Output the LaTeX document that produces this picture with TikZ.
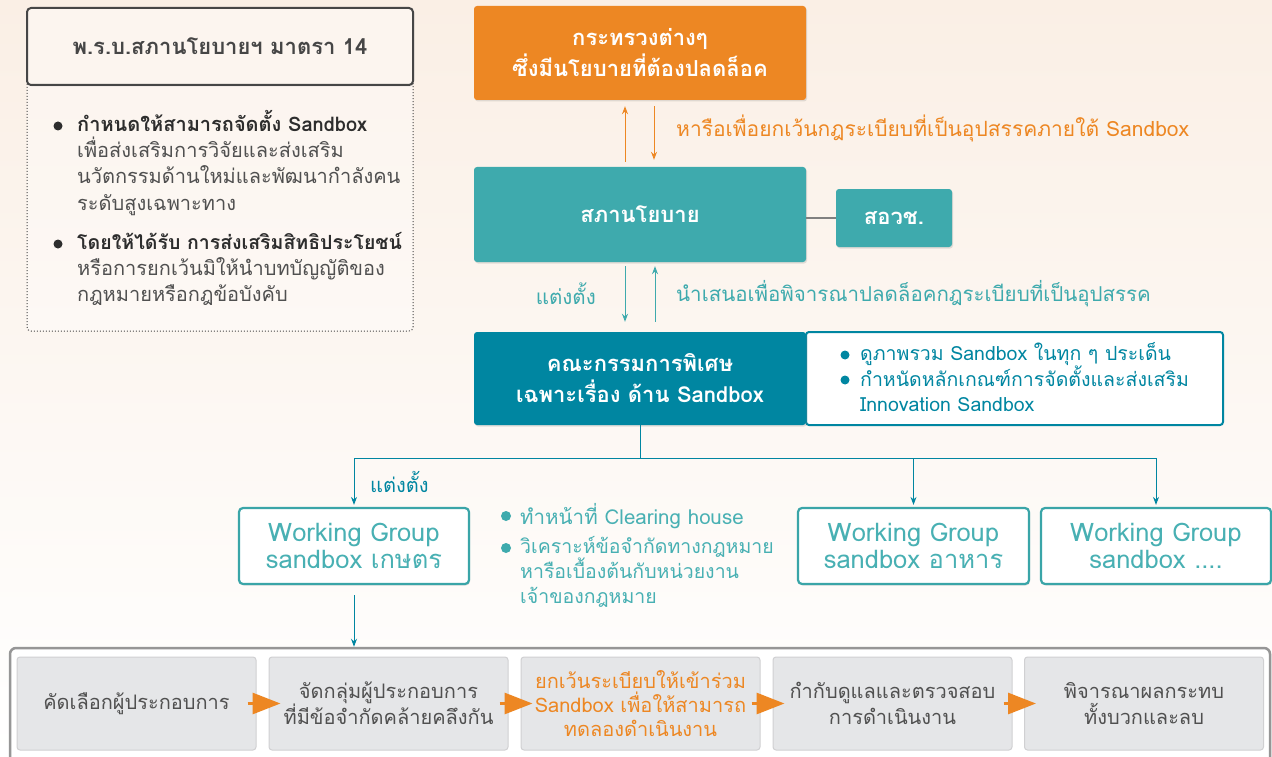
\documentclass[tikz,border=0pt]{standalone}
\usepackage{fontspec}
\setmainfont{Loma}[Script=Thai]
\usetikzlibrary{arrows.meta,shadows}
\definecolor{bgtop}{RGB}{250,239,229}
\definecolor{cOrange}{RGB}{237,135,35}
\definecolor{cTeal}{RGB}{62,170,173}
\definecolor{cTealTxt}{RGB}{72,176,179}
\definecolor{cDark}{RGB}{0,134,161}
\definecolor{cWG}{RGB}{58,165,168}
\definecolor{cText}{RGB}{80,80,80}
\definecolor{cHead}{RGB}{70,70,70}
\definecolor{cBold}{RGB}{45,45,45}
\definecolor{cStep}{RGB}{229,230,232}
\definecolor{cStepLine}{RGB}{208,208,210}
\definecolor{cFrame}{RGB}{150,150,150}
\begin{document}
\begin{tikzpicture}[x=1pt,y=-1pt,
  shadowed/.style={drop shadow={opacity=0.22,shadow xshift=1pt,shadow yshift=-1.5pt}},
  solidbox/.style={rounded corners=3pt,text=white,align=center,inner sep=0pt,
    font=\bfseries\fontsize{22}{31}\selectfont,shadowed},
  wgbox/.style={rounded corners=4pt,draw=cWG,line width=2.2pt,fill=white,text=cTealTxt,
    align=center,inner sep=0pt,minimum width=230pt,minimum height=76pt,
    font=\fontsize{25.5}{27}\selectfont,shadowed},
  stepbox/.style={rounded corners=3pt,draw=cStepLine,line width=1pt,fill=cStep,text=cText,
    align=center,inner sep=0pt,minimum width=239pt,minimum height=93pt,
    font=\fontsize{20}{26}\selectfont},
  body/.style={inner sep=0pt,align=left,anchor=north west,font=\fontsize{20}{26.3}\selectfont},
  oarrow/.style={cOrange,line width=1pt,-{Stealth[length=8pt,width=6pt]}},
  tarrow/.style={cTeal,line width=1pt,-{Stealth[length=8pt,width=6pt]}},
  darrow/.style={cDark,line width=1pt,-{Stealth[length=8pt,width=6pt]}},
  steparrow/.style={cOrange,line width=3pt,-{Triangle[length=28pt,width=21pt]}},
]
\clip (0,0) rectangle (1272,757);
\shade[top color=bgtop,bottom color=white] (0,0) rectangle (1272,757);

% ---------- left panel ----------
\draw[cHead,dotted,line width=1pt,rounded corners=4pt,fill=white,fill opacity=0.35] (27,50) rectangle (413,331);
\node[draw=cHead,line width=2pt,rounded corners=4pt,fill=bgtop!60!white,minimum width=386pt,minimum height=77pt,
  inner sep=0pt,text=cHead,font=\bfseries\fontsize{22}{26}\selectfont,shadowed] (law) at (220,46.5)
  {พ.ร.บ.สภานโยบายฯ มาตรา 14};
\fill[cBold] (58,126) circle (4.5pt);
\fill[cBold] (58,244) circle (4.5pt);
\node[body,text=cText] (lb1) at (77,110)
  {\textbf{\color{cBold}กำหนดให้สามารถจัดตั้ง Sandbox}\\เพื่อส่งเสริมการวิจัยและส่งเสริม\\นวัตกรรมด้านใหม่และพัฒนากำลังคน\\ระดับสูงเฉพาะทาง};
\node[body,text=cText] (lb2) at (77,232)
  {\textbf{\color{cBold}\fontsize{19.5}{26.3}\selectfont โดยให้ได้รับ การส่งเสริมสิทธิประโยชน์}\\หรือการยกเว้นมิให้นำบทบัญญัติของ\\กฎหมายหรือกฎข้อบังคับ};

% ---------- top column ----------
\node[solidbox,fill=cOrange,minimum width=332pt,minimum height=94pt] (min) at (640,53)
  {กระทรวงต่างๆ\\ซึ่งมีนโยบายที่ต้องปลดล็อค};
\node[solidbox,fill=cTeal,minimum width=332pt,minimum height=95pt] (council) at (640,214.5) {สภานโยบาย};
\node[solidbox,fill=cTeal,minimum width=116pt,minimum height=58pt] (ocs) at (894,218) {สอวช.};
\draw[gray,line width=2pt] (ocs.west) -- (ocs.west -| council.east);

\draw[oarrow] ([xshift=-15pt,yshift=5pt]council.north) -- ([xshift=-15pt,yshift=-6pt]min.south);
\draw[oarrow] ([xshift=14pt,yshift=-6pt]min.south) -- ([xshift=14pt,yshift=7pt]council.north);
\node[inner sep=0pt,anchor=west,text=cOrange,font=\fontsize{21}{25}\selectfont] (lblA) at (676,128)
  {หารือเพื่อยกเว้นกฎระเบียบที่เป็นอุปสรรคภายใต้ Sandbox};

% right info box then dark box
\node[draw=cDark,line width=2pt,rounded corners=3pt,fill=white,minimum width=417pt,minimum height=93pt,inner sep=0pt] (info) at (1014.5,378.5) {};
\node[solidbox,fill=cDark,minimum width=332pt,minimum height=93pt] (board) at (640,378.5)
  {คณะกรรมการพิเศษ\\เฉพาะเรื่อง ด้าน Sandbox};
\fill[cDark] (845,355) circle (4.5pt);
\fill[cDark] (845,380) circle (4.5pt);
\node[body,text=cDark,font=\fontsize{19.5}{25}\selectfont] (infotxt) at (860,342)
  {ดูภาพรวม Sandbox ในทุก ๆ ประเด็น\\กำหนัดหลักเกณฑ์การจัดตั้งและส่งเสริม\\Innovation Sandbox};

\draw[tarrow] ([xshift=-15pt,yshift=-4pt]council.south) -- ([xshift=-15pt,yshift=10pt]board.north);
\draw[tarrow] ([xshift=15pt,yshift=10pt]board.north) -- ([xshift=15pt,yshift=-4pt]council.south);
\node[inner sep=0pt,anchor=east,text=cTeal,font=\fontsize{20.5}{24}\selectfont] (lblB) at (596,294) {แต่งตั้ง};
\node[inner sep=0pt,anchor=west,text=cTeal,font=\fontsize{20.5}{24}\selectfont] (lblC) at (676,294)
  {นำเสนอเพื่อพิจารณาปลดล็อคกฎระเบียบที่เป็นอุปสรรค};

% ---------- working groups ----------
\node[wgbox] (wg1) at (354,546) {Working Group\\sandbox เกษตร};
\node[wgbox,minimum width=231pt] (wg2) at (913.5,546) {Working Group\\sandbox อาหาร};
\node[wgbox] (wg3) at (1156,546) {Working Group\\sandbox ....};

\coordinate (j) at (640,458);
\draw[cDark,line width=1pt] (board.south) -- (board.south |- j);
\draw[cDark,line width=1pt] (wg1.north |- j) -- (wg3.north |- j);
\draw[darrow] (wg1.north |- j) -- ([yshift=2pt]wg1.north);
\draw[darrow] (wg2.north |- j) -- ([yshift=2pt]wg2.north);
\draw[darrow] (wg3.north |- j) -- ([yshift=2pt]wg3.north);
\node[inner sep=0pt,anchor=west,text=cDark,font=\fontsize{20}{24}\selectfont] (lblD) at (370,482) {แต่งตั้ง};

\fill[cTeal] (506,516) circle (5pt);
\fill[cTeal] (506,548) circle (5pt);
\node[body,text=cTealTxt,font=\fontsize{20.5}{26}\selectfont] (wgt1) at (520,503) {ทำหน้าที่ Clearing house};
\node[body,text=cTealTxt,font=\fontsize{19.5}{24.5}\selectfont] (wgt2) at (520,536)
  {วิเคราะห์ข้อจำกัดทางกฎหมาย\\หารือเบื้องต้นกับหน่วยงาน\\เจ้าของกฎหมาย};

% ---------- bottom process ----------
\node[draw=cFrame,line width=2.5pt,rounded corners=6pt,fill=white,minimum width=1260pt,minimum height=124pt,inner sep=0pt] (frame) at (640,710) {};
\draw[darrow] ([yshift=-10pt]wg1.south) -- (frame.north -| wg1.south);

\node[stepbox] (s1) at (136.5,703.5) {คัดเลือกผู้ประกอบการ};
\node[stepbox] (s2) at (388.5,703.5) {จัดกลุ่มผู้ประกอบการ\\ที่มีข้อจำกัดคล้ายคลึงกัน};
\node[stepbox,text=cOrange,font=\fontsize{20}{24}\selectfont] (s3) at (640.5,703.5) {ยกเว้นระเบียบให้เข้าร่วม\\Sandbox เพื่อให้สามารถ\\ทดลองดำเนินงาน};
\node[stepbox] (s4) at (892.5,703.5) {กำกับดูแลและตรวจสอบ\\การดำเนินงาน};
\node[stepbox] (s5) at (1144,703.5) {พิจารณาผลกระทบ\\ทั้งบวกและลบ};

\draw[steparrow] ([xshift=-9pt]s1.east) -- ([xshift=12pt]s2.west);
\draw[steparrow] ([xshift=-9pt]s2.east) -- ([xshift=12pt]s3.west);
\draw[steparrow] ([xshift=-9pt]s3.east) -- ([xshift=12pt]s4.west);
\draw[steparrow] ([xshift=-9pt]s4.east) -- ([xshift=12pt]s5.west);
\end{tikzpicture}
\end{document}
